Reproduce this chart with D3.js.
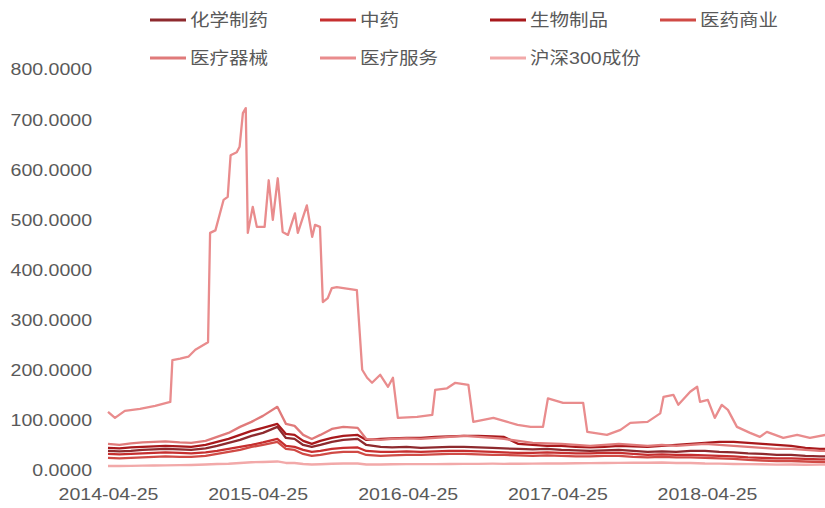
<!DOCTYPE html>
<html><head><meta charset="utf-8">
<script src="https://cdn.jsdelivr.net/npm/d3@7"></script>
<style>body{margin:0;background:#fff}svg{display:block}text{font-family:"Liberation Sans",Arial,"Noto Sans CJK SC",sans-serif;fill:#595959}</style>
</head><body><svg id="c" width="825" height="508"></svg>
<script>
const seriesNames = ["化学制药","中药","生物制品","医药商业","医疗器械","医疗服务","沪深300成份"];
const seriesColors = ["#8E2A2E","#C62F2F","#A8191C","#D04A45","#E07A7A","#E98C8D","#F2A9A9"];
const yTicks = [0,100,200,300,400,500,600,700,800];
const xTickLabels = ["2014-04-25","2015-04-25","2016-04-25","2017-04-25","2018-04-25"];

const dates = ["2014-04-25","2014-05-23","2014-06-20","2014-07-18","2014-08-15","2014-09-12","2014-10-17","2014-11-14","2014-12-19","2015-01-16","2015-02-13","2015-03-13","2015-04-10","2015-05-08","2015-06-12","2015-07-03","2015-07-24","2015-08-14","2015-09-04","2015-09-25","2015-10-23","2015-11-20","2015-12-25","2016-01-15","2016-02-19","2016-03-18","2016-04-22","2016-05-27","2016-07-01","2016-08-05","2016-09-09","2016-10-14","2016-11-18","2016-12-16","2017-01-20","2017-02-24","2017-03-31","2017-05-05","2017-06-09","2017-07-14","2017-08-18","2017-09-22","2017-10-27","2017-12-01","2018-01-05","2018-02-09","2018-03-16","2018-04-20","2018-05-25","2018-06-29","2018-08-03","2018-09-07","2018-10-12","2018-11-16","2018-12-21","2019-01-25","2019-02-08"];
const chemPharma = [38,37,38,40,41,42,41,40,43,48,54,60,68,74,86,64,62,50,46,50,56,60,62,50,46,45,46,44,45,46,46,45,44,43,42,41,42,40,39,38,39,40,38,36,37,36,38,38,36,35,33,32,30,30,28,27,27];
const tcm = [32,31,32,33,34,35,34,33,35,38,42,46,50,55,62,48,46,40,36,38,42,44,45,38,36,36,37,36,37,38,38,37,36,35,34,34,35,34,33,33,34,34,32,30,31,30,30,29,28,27,25,24,23,23,22,21,21];
const biologics = [44,43,45,46,47,48,47,46,50,56,62,70,78,84,92,72,70,58,52,58,64,68,70,60,62,63,64,64,66,67,68,68,67,66,52,50,48,48,46,45,46,48,47,46,48,50,52,54,56,56,54,52,50,48,44,42,42];
const commerce = [24,23,24,25,26,27,26,26,28,32,36,40,46,50,56,42,40,32,28,30,34,36,36,30,28,29,30,30,31,32,32,31,30,30,29,28,29,28,27,27,28,28,26,25,26,25,25,24,23,22,20,19,18,18,17,16,16];
const devices = [52,50,53,55,56,57,55,54,58,66,74,86,96,108,126,92,88,70,62,70,82,86,84,62,60,62,63,62,64,66,68,66,64,62,58,54,53,52,50,48,50,52,50,48,50,48,50,52,50,48,46,44,42,42,40,38,38];
const hs300 = [8,8,8.3,8.8,9,9.3,9.6,10,11,12,12.5,14,15.5,16,17,14,14,12,11,11.5,12.5,13,13,11,11,11.5,11.8,11.7,11.8,12,12.2,12.4,12.6,12.4,12.5,12.8,13,13,13.5,13.8,14,14.2,14.5,14.5,15,14,14,13,12.8,12,11.8,11.5,10.8,11,10.5,10.8,11];

const serviceDates = ["2014-04-25","2014-05-12","2014-06-05","2014-07-12","2014-08-18","2014-09-24","2014-09-29","2014-10-18","2014-11-07","2014-11-24","2014-12-25","2014-12-30","2015-01-12","2015-02-01","2015-02-11","2015-02-18","2015-03-05","2015-03-12","2015-03-20","2015-03-27","2015-04-01","2015-04-13","2015-04-23","2015-05-12","2015-05-22","2015-06-01","2015-06-13","2015-06-25","2015-07-08","2015-07-25","2015-08-01","2015-08-23","2015-09-05","2015-09-12","2015-09-24","2015-10-01","2015-10-13","2015-10-23","2015-11-04","2015-12-23","2016-01-05","2016-01-17","2016-01-29","2016-02-18","2016-03-08","2016-03-20","2016-04-01","2016-05-18","2016-06-24","2016-07-01","2016-07-30","2016-08-19","2016-09-20","2016-10-02","2016-11-20","2016-12-24","2017-01-18","2017-02-19","2017-03-21","2017-04-02","2017-05-09","2017-06-27","2017-07-07","2017-08-24","2017-09-26","2017-10-20","2017-12-01","2018-01-01","2018-01-09","2018-02-02","2018-02-14","2018-03-15","2018-04-01","2018-04-08","2018-04-27","2018-05-14","2018-05-31","2018-06-15","2018-07-07","2018-08-08","2018-09-01","2018-09-18","2018-10-28","2018-12-01","2019-01-01","2019-02-08"];
const service = [116,104,118,122,128,136,219,222,226,240,255,473,478,539,545,628,634,645,712,722,473,525,485,485,578,499,582,475,469,512,473,528,465,489,485,335,343,363,365,359,200,184,174,190,166,184,104,106,110,160,163,174,170,96,104,96,90,86,86,143,134,134,76,70,80,94,96,113,146,150,130,156,166,136,140,104,130,120,86,74,66,76,64,70,64,70];

const parse = d3.timeParse("%Y-%m-%d");
const seriesValues = [chemPharma, tcm, biologics, commerce, devices, service, hs300];
const seriesDates = [dates, dates, dates, dates, dates, serviceDates, dates];

const svg = d3.select("#c");
const x = d3.scaleTime().domain([parse("2014-04-25"), parse("2018-04-25")]).range([108, 707]);
const y = d3.scaleLinear().domain([0, 800]).range([470, 69]);
const SX = 1.15;

// y axis labels
const yAxis = svg.append("g").attr("transform", "translate(92,0)")
  .call(d3.axisLeft(y).tickValues(yTicks).tickFormat(d3.format(".4f")).tickSize(0).tickPadding(0));
yAxis.select(".domain").remove();
yAxis.selectAll("text").attr("font-size", 17).attr("dy", "0.35em")
  .attr("transform", function(){ return "scale(" + SX + ",1)"; })
  .attr("x", 0);
yAxis.selectAll(".tick").each(function(){
  const t = d3.select(this).select("text");
  t.attr("x", 0);
});

// x axis labels
const xAxis = svg.append("g").attr("transform", "translate(0,488)")
  .call(d3.axisBottom(x).tickValues(xTickLabels.map(parse)).tickFormat(d3.timeFormat("%Y-%m-%d")).tickSize(0).tickPadding(0));
xAxis.select(".domain").remove();
xAxis.selectAll("text").attr("font-size", 17).attr("dy", "0.71em").attr("y", 0)
  .attr("transform", "scale(" + SX + ",1)");

// lines
const line = d3.line().x(d => x(d[0])).y(d => y(d[1]));
seriesNames.forEach((name, i) => {
  const pts = seriesDates[i].map((d, j) => [parse(d), seriesValues[i][j]]);
  svg.append("path").datum(pts).attr("d", line)
    .attr("fill", "none").attr("stroke", seriesColors[i]).attr("stroke-width", 2.3)
    .attr("stroke-linejoin", "round");
});

// legend
const legendX = [150, 320, 490, 660];
const legendY = [20, 58];
const lg = svg.append("g");
seriesNames.forEach((name, i) => {
  const lx = legendX[i % 4], ly = legendY[Math.floor(i / 4)];
  const g = lg.append("g").attr("transform", `translate(${lx},${ly})`);
  g.append("line").attr("x1", 0).attr("x2", 36).attr("y1", 0).attr("y2", 0)
    .attr("stroke", seriesColors[i]).attr("stroke-width", 3);
  g.append("text").attr("x", 0).attr("y", 0).attr("dy", "0.35em").attr("font-size", 17)
    .attr("transform", `translate(40,0) scale(${SX},1)`).text(name);
});
</script></body></html>
